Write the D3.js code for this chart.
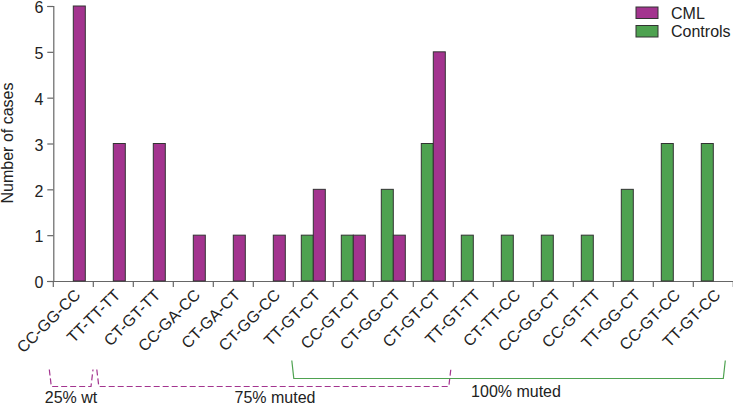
<!DOCTYPE html>
<html>
<head>
<meta charset="utf-8">
<script src="https://cdn.jsdelivr.net/npm/d3@7"></script>
<style>
  body { margin: 0; background: #fff; }
  text { font-family: "Liberation Sans", Arial, sans-serif; fill: #222; }
</style>
</head>
<body>
<script>
var WIDTH = 733,
    HEIGHT = 406;

// genotypes along the x axis
var categories = ["CC-GG-CC", "TT-TT-TT", "CT-GT-TT", "CC-GA-CC", "CT-GA-CT", "CT-GG-CC",
  "TT-GT-CT", "CC-GT-CT", "CT-GG-CT", "CT-GT-CT", "TT-GT-TT", "CT-TT-CC", "CC-GG-CT",
  "CC-GT-TT", "TT-GG-CT", "CC-GT-CC", "TT-GT-CC"];
var cml      = [6, 3, 3, 1, 1, 1, 2, 1, 1, 5, 0, 0, 0, 0, 0, 0, 0];
var controls = [0, 0, 0, 0, 0, 0, 1, 1, 2, 3, 1, 1, 1, 1, 2, 3, 3];
var yTicks = [0, 1, 2, 3, 4, 5, 6];
var seriesNames = ["CML", "Controls"];

// brackets under the axis: first / last category covered
var groups = [
  { label: "25% wt", from: 0, to: 0, series: "CML" },
  { label: "75% muted", from: 1, to: 9, series: "CML" },
  { label: "100% muted", from: 6, to: 16, series: "Controls" }
];

var color = d3.scaleOrdinal().domain(seriesNames).range(["#a3348f", "#4ea250"]);

var svg = d3.select("body").append("svg")
    .attr("width", WIDTH)
    .attr("height", HEIGHT);

var x = d3.scaleBand().domain(categories).range([53.3, 733.3]).padding(0),
    y = d3.scaleLinear().domain([0, 6]).range([281, 6]);

var BAR = 12;

// axes
var yAxis = svg.append("g")
    .attr("transform", "translate(53.3,0)")
    .call(d3.axisLeft(y).tickValues(yTicks).tickSize(6).tickPadding(4).tickFormat(d3.format("d")));
yAxis.selectAll("text").style("font-size", "16px").attr("dy", "0.42em");

var xAxis = svg.append("g")
    .attr("transform", "translate(0,281)")
    .call(d3.axisBottom(x).tickSize(6).tickFormat(""));
xAxis.selectAll(".tick").remove();
xAxis.selectAll(".edge").data(categories.concat(["end"])).enter().append("line")
    .attr("x1", function(d, i) { return x.range()[0] + i * x.step(); })
    .attr("x2", function(d, i) { return x.range()[0] + i * x.step(); })
    .attr("y1", 0).attr("y2", 6);
svg.selectAll(".domain, line").attr("stroke", "#666").attr("stroke-width", 1.2);
xAxis.select(".domain").attr("d", "M47,0.5H733");

// category labels
svg.append("g").selectAll("text").data(categories).enter().append("text")
    .attr("transform", function(d) {
      return "translate(" + (x(d) + x.bandwidth() / 2 + 8) + ",296) rotate(-45)";
    })
    .attr("text-anchor", "end")
    .style("font-size", "16px")
    .text(function(d) { return d; });

// y label
svg.append("text")
    .attr("transform", "translate(13,143) rotate(-90)")
    .attr("text-anchor", "middle")
    .style("font-size", "16px")
    .text("Number of cases");

// bars
var bars = svg.append("g").attr("stroke", "#333").attr("stroke-width", 1);
bars.selectAll(".ctl").data(categories).enter().filter(function(d, i) { return controls[i] > 0; })
  .append("rect")
    .attr("x", function(d) { return x(d) + x.bandwidth() / 2 - BAR; })
    .attr("y", function(d) { return y(controls[categories.indexOf(d)]); })
    .attr("width", BAR)
    .attr("height", function(d) { return y(0) - y(controls[categories.indexOf(d)]); })
    .attr("fill", color("Controls"));
bars.selectAll(".cml").data(categories).enter().filter(function(d, i) { return cml[i] > 0; })
  .append("rect")
    .attr("x", function(d) { return x(d) + x.bandwidth() / 2; })
    .attr("y", function(d) { return y(cml[categories.indexOf(d)]); })
    .attr("width", BAR)
    .attr("height", function(d) { return y(0) - y(cml[categories.indexOf(d)]); })
    .attr("fill", color("CML"));

// legend
var legend = svg.append("g").selectAll("g").data(seriesNames).enter().append("g")
    .attr("transform", function(d, i) { return "translate(636," + (7 + i * 18.5) + ")"; });
legend.append("rect")
    .attr("width", 22).attr("height", 11.5)
    .attr("fill", function(d) { return color(d); })
    .attr("stroke", "#333");
legend.append("text")
    .attr("x", 35).attr("y", 11.5)
    .style("font-size", "16px")
    .text(function(d) { return d; });

// brackets
groups.forEach(function(g) {
  var isCml = g.series === "CML";
  var x0 = x(categories[g.from]) + (g.from === 0 ? -4 : (isCml ? 3.5 : -1.5)),
      x1 = x(categories[g.to]) + x.bandwidth() + (isCml ? (g.to === 0 ? -0.3 : -2.5) : -8),
      top = isCml ? 369.5 : 360.5,
      bot = isCml ? 386.5 : 378.5;
  svg.append("path")
      .attr("d", "M" + x0 + "," + top + "L" + (x0 + 2) + "," + bot + "H" + (x1 - 2) + "L" + x1 + "," + top)
      .attr("fill", "none")
      .attr("stroke", color(g.series))
      .attr("stroke-width", 1.2)
      .attr("stroke-dasharray", isCml ? "6,3" : null);
  svg.append("text")
      .attr("x", isCml ? (g.from === 0 ? 71 : 275) : 516)
      .attr("y", isCml ? 403 : 397)
      .attr("text-anchor", "middle")
      .style("font-size", "16px")
      .text(g.label);
});
</script>
</body>
</html>
